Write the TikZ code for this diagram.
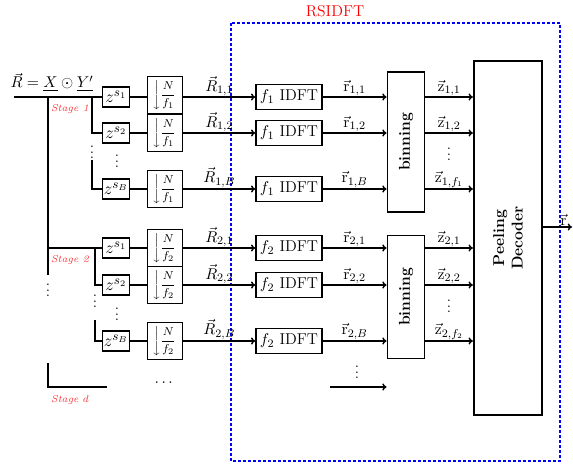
\documentclass[tikz,border=0pt]{standalone}
\usepackage{amsmath}
\usepackage{amssymb}
\usetikzlibrary{arrows.meta, positioning, calc}

\begin{document}
\begin{tikzpicture}[x=0.7pt, y=-0.7pt, line width=1pt, font=\fontsize{11}{13}\selectfont,
    delaybox/.style={draw, line width=1.2pt, minimum width=19pt, minimum height=14pt, inner sep=0.5pt, font=\fontsize{13}{15}\selectfont},
    downbox/.style={draw, line width=1.2pt, minimum width=24.5pt, minimum height=26pt, inner sep=0.5pt, font=\fontsize{8.5}{10}\selectfont},
    idftbox/.style={draw, line width=1.2pt, minimum width=46pt, minimum height=17.5pt, inner sep=1pt},
    binbox/.style={draw, line width=1.2pt, rotate=90, minimum height=26pt, inner sep=1pt, font=\fontsize{11}{13}\selectfont\bfseries},
    stagelbl/.style={text=red!80, font=\scriptsize\itshape},
    arr/.style={-{To[length=3pt,width=5pt]}},
    lbl/.style={above, inner sep=0.5pt}]
  \useasboundingbox (0,0) rectangle (573,466);

  % RSIDFT frame
  \draw[blue, line width=1.2pt, dash pattern=on 2pt off 1.5pt] (231,23) rectangle (560,461);
  \node[text=red] (rs) at (335,11) {RSIDFT};

  % input
  \node (eq) at (52,82) {$\vec{R} = \underline{X} \odot \underline{Y'}$};
  \coordinate (in) at (14,97);

  % stage 1
  \node[delaybox] (z11) at (116,97)  {$z^{s_1}$};
  \node[delaybox] (z12) at (116,133) {$z^{s_2}$};
  \node[delaybox] (z1B) at (116,189) {$z^{s_B}$};
  \node[downbox] (d11) at (165,95)  {$\left\downarrow\dfrac{N}{f_1}\right.$};
  \node[downbox] (d12) at (165,133) {$\left\downarrow\dfrac{N}{f_1}\right.$};
  \node[downbox] (d1B) at (165,189) {$\left\downarrow\dfrac{N}{f_1}\right.$};
  \node[idftbox] (i11) at (289,97)  {$f_1$ IDFT};
  \node[idftbox] (i12) at (289,133) {$f_1$ IDFT};
  \node[idftbox] (i1B) at (289,189) {$f_1$ IDFT};
  \node[binbox, minimum width=98pt] (bin1) at (406,142) {binning};

  % stage 2
  \node[delaybox] (z21) at (116,248) {$z^{s_1}$};
  \node[delaybox] (z22) at (116,285) {$z^{s_2}$};
  \node[delaybox] (z2B) at (116,341) {$z^{s_B}$};
  \node[downbox] (d21) at (165,248) {$\left\downarrow\dfrac{N}{f_2}\right.$};
  \node[downbox] (d22) at (165,285) {$\left\downarrow\dfrac{N}{f_2}\right.$};
  \node[downbox] (d2B) at (165,341) {$\left\downarrow\dfrac{N}{f_2}\right.$};
  \node[idftbox] (i21) at (289,248) {$f_2$ IDFT};
  \node[idftbox] (i22) at (289,285) {$f_2$ IDFT};
  \node[idftbox] (i2B) at (289,341) {$f_2$ IDFT};
  \node[binbox, minimum width=86pt] (bin2) at (406,297) {binning};

  \node[binbox, minimum width=248pt, minimum height=48pt, align=center] (pd) at (508,238) {Peeling\\Decoder};

  % stage spine
  \coordinate (s1) at (48,97);
  \coordinate (s2) at (48,248);
  \coordinate (send) at (48,275);
  \coordinate (sd) at (48,363);
  \coordinate (sde) at (107,387);
  \draw (in) -- (z11.west);
  \draw (s1) -- (send);
  \draw (s2) -- (z21.west);
  \draw (sd) |- (sde);
  \node[stagelbl] (st1) at (70,109) {Stage 1};
  \node[stagelbl] (st2) at (70,260) {Stage 2};
  \node[stagelbl] (std) at (70,400) {Stage $d$};
  \node (dt0) at (48,286) {$\vdots$};
  \node (dt9) at (165,383) {$\cdots$};

  % delay branches
  \coordinate (b1) at (92,97);
  \coordinate (b1e) at (92,160);
  \coordinate (b2) at (95,248);
  \coordinate (b2e) at (95,320);
  \draw (b1) |- (z12.west);
  \draw (b1e) |- (z1B.west);
  \draw (b2) |- (z22.west);
  \draw (b2e) |- (z2B.west);
  \node (dt1) at (92,148) {$\vdots$};
  \node (dt2) at (117,157) {$\vdots$};
  \node (dt3) at (95,297) {$\vdots$};
  \node (dt4) at (117,310) {$\vdots$};

  % stage 1 rows
  \draw (z11) -- (d11.west |- z11);
  \draw (z12) -- (d12);
  \draw (z1B) -- (d1B);
  \draw[arr] (d11.east |- i11) -- node[lbl] {$\vec{R}_{1,1}$} (i11);
  \draw[arr] (d12) -- node[lbl] {$\vec{R}_{1,2}$} (i12);
  \draw[arr] (d1B) -- node[lbl] {$\vec{R}_{1,B}$} (i1B);
  \draw[arr] (i11) -- node[lbl] {$\vec{\mathrm{r}}_{1,1}$} (bin1.north |- i11);
  \draw[arr] (i12) -- node[lbl] {$\vec{\mathrm{r}}_{1,2}$} (bin1.north |- i12);
  \draw[arr] (i1B) -- node[lbl] {$\vec{\mathrm{r}}_{1,B}$} (bin1.north |- i1B);
  \draw[arr] (bin1.south |- i11) -- node[lbl] {$\vec{\mathrm{z}}_{1,1}$} (pd.north |- i11);
  \draw[arr] (bin1.south |- i12) -- node[lbl] {$\vec{\mathrm{z}}_{1,2}$} (pd.north |- i12);
  \draw[arr] (bin1.south |- i1B) -- node[lbl] {$\vec{\mathrm{z}}_{1,f_1}$} (pd.north |- i1B);
  \node (dt5) at (449,150) {$\vdots$};

  % stage 2 rows
  \draw (z21) -- (d21);
  \draw (z22) -- (d22);
  \draw (z2B) -- (d2B);
  \draw[arr] (d21) -- node[lbl] {$\vec{R}_{2,1}$} (i21);
  \draw[arr] (d22) -- node[lbl] {$\vec{R}_{2,2}$} (i22);
  \draw[arr] (d2B) -- node[lbl] {$\vec{R}_{2,B}$} (i2B);
  \draw[arr] (i21) -- node[lbl] {$\vec{\mathrm{r}}_{2,1}$} (bin2.north |- i21);
  \draw[arr] (i22) -- node[lbl] {$\vec{\mathrm{r}}_{2,2}$} (bin2.north |- i22);
  \draw[arr] (i2B) -- node[lbl] {$\vec{\mathrm{r}}_{2,B}$} (bin2.north |- i2B);
  \draw[arr] (bin2.south |- i21) -- node[lbl] {$\vec{\mathrm{z}}_{2,1}$} (pd.north |- i21);
  \draw[arr] (bin2.south |- i22) -- node[lbl] {$\vec{\mathrm{z}}_{2,2}$} (pd.north |- i22);
  \draw[arr] (bin2.south |- i2B) -- node[lbl] {$\vec{\mathrm{z}}_{2,f_2}$} (pd.north |- i2B);
  \node (dt6) at (449,302) {$\vdots$};

  % further stages
  \coordinate (rd) at (330,387);
  \draw[arr] (rd) -- (bin2.north |- rd);
  \node (dt7) at (357,368) {$\vdots$};

  % output
  \coordinate (out) at (572,227);
  \draw[arr] (pd.south |- out) -- node[lbl, pos=0.7] {$\vec{\mathrm{r}}$} (out);
\end{tikzpicture}
\end{document}
